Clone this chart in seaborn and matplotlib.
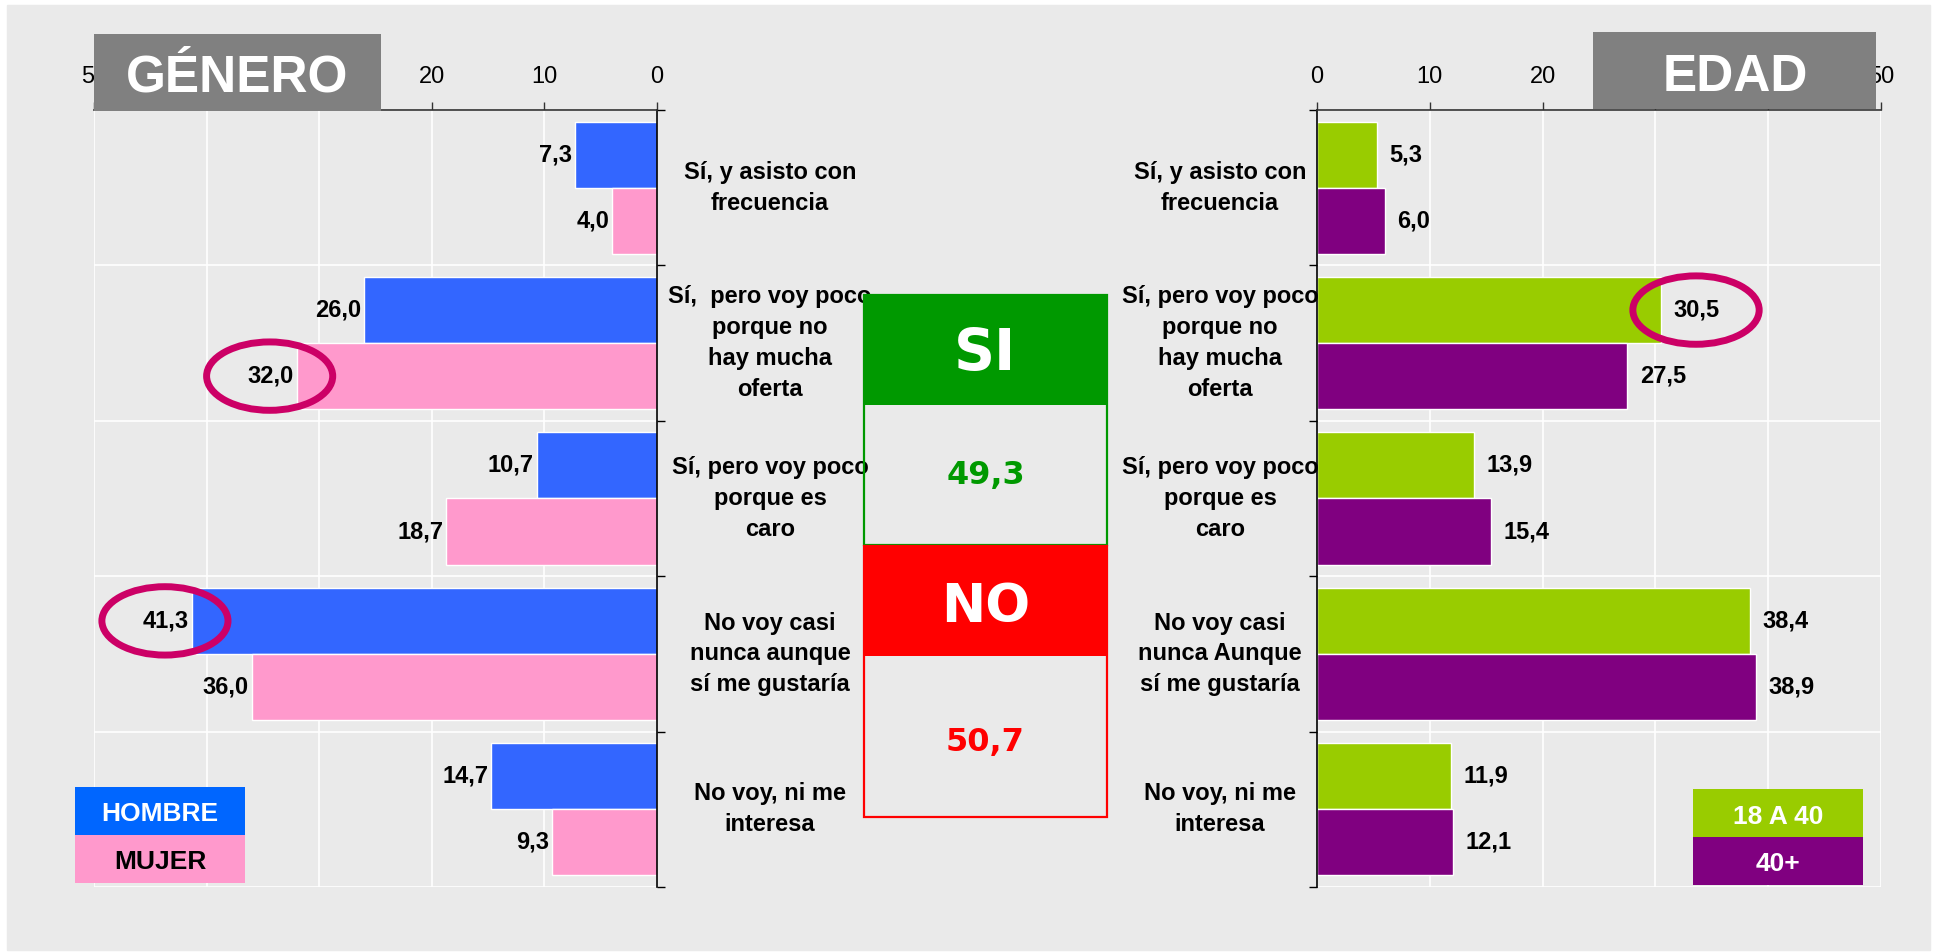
import numpy as np
import pandas as pd
import matplotlib
matplotlib.use("Agg")
import matplotlib.pyplot as plt
import matplotlib.transforms as mtransforms
from matplotlib.patches import Rectangle, Ellipse
import seaborn as sns

# -----------------------------
# Data
# -----------------------------
categorias_genero = [
    "Sí, y asisto con\nfrecuencia",
    "Sí,  pero voy poco\nporque no\nhay mucha\noferta",
    "Sí, pero voy poco\nporque es\ncaro",
    "No voy casi\nnunca aunque\nsí me gustaría",
    "No voy, ni me\ninteresa",
]
categorias_edad = [
    "Sí, y asisto con\nfrecuencia",
    "Sí, pero voy poco\nporque no\nhay mucha\noferta",
    "Sí, pero voy poco\nporque es\ncaro",
    "No voy casi\nnunca Aunque\nsí me gustaría",
    "No voy, ni me\ninteresa",
]
grupos_genero = ["HOMBRE", "MUJER"]
hombre = [7.3, 26.0, 10.7, 41.3, 14.7]
mujer = [4.0, 32.0, 18.7, 36.0, 9.3]

grupos_edad = ["18 A 40", "40+"]
edad_18_40 = [5.3, 30.5, 13.9, 38.4, 11.9]
edad_40_mas = [6.0, 27.5, 15.4, 38.9, 12.1]

total_si = 49.3
total_no = 50.7

# bars that get a circle: (group, category index)
destacados_genero = [("MUJER", 1), ("HOMBRE", 3)]
destacados_edad = [("18 A 40", 1)]

ticks_x = [0, 10, 20, 30, 40, 50]
# 30 and 40 sit under the title boxes
tick_labels_x = ["0", "10", "20", "", "", "50"]

col_genero = ["#3366ff", "#ff99cc"]
col_edad = ["#99cc00", "#800080"]

df_gen = pd.DataFrame({
    "categoria": categorias_genero * 2,
    "valor": hombre + mujer,
    "grupo": [grupos_genero[0]] * 5 + [grupos_genero[1]] * 5,
})
df_edad = pd.DataFrame({
    "categoria": categorias_edad * 2,
    "valor": edad_18_40 + edad_40_mas,
    "grupo": [grupos_edad[0]] * 5 + [grupos_edad[1]] * 5,
})

# -----------------------------
# Style
# -----------------------------
BG = "#eaeaea"
sns.set_theme(style="darkgrid", rc={"axes.facecolor": BG, "grid.color": "white"})
plt.rcParams["font.family"] = ["Liberation Sans", "DejaVu Sans"]

W, H = 1934, 952
fig = plt.figure(figsize=(W / 100, H / 100), dpi=100, facecolor="white")


def fx(x):
    return x / W


def fy(y):
    return 1 - y / H


# grey background panel
fig.add_artist(Rectangle((fx(7), fy(950)), fx(1930) - fx(7), fy(5) - fy(950),
                         transform=fig.transFigure, color=BG, zorder=-10))

ax_l = fig.add_axes([fx(94), fy(887), fx(657) - fx(94), fy(110) - fy(887)])
ax_r = fig.add_axes([fx(1317), fy(887), fx(1881) - fx(1317), fy(110) - fy(887)])


def dibujar(ax, df, grupos, colores, invert, destacados, label_x, ell_off):
    sns.barplot(data=df, x="valor", y="categoria", hue="grupo", hue_order=grupos,
                palette=colores, orient="h", width=0.85, saturation=1,
                legend=False, ax=ax)
    ax.set_facecolor(BG)
    ax.set_xlabel("")
    ax.set_ylabel("")
    ax.set_ylim(4.5, -0.5)
    if invert:
        ax.set_xlim(50, 0)
    else:
        ax.set_xlim(0, 50)
    ax.set_xticks(ticks_x, tick_labels_x)
    ax.xaxis.tick_top()
    ax.set_yticks(np.arange(-0.5, 5.0, 1.0))
    ax.grid(True, color="white", lw=1.2)
    ax.set_axisbelow(True)
    for s in ax.spines.values():
        s.set_visible(False)
    ax.spines["top"].set_visible(True)
    ax.spines["top"].set_color("#333333")
    ax.spines["top"].set_linewidth(1.2)
    side = "right" if invert else "left"
    ax.spines[side].set_visible(True)
    ax.spines[side].set_color("black")
    ax.spines[side].set_linewidth(1.2)
    ax.tick_params(axis="x", top=True, bottom=False, labeltop=True, labelbottom=False,
                   direction="out", length=6, width=1, color="#333333", pad=10,
                   labelsize=17, labelcolor="black")
    if invert:
        ax.yaxis.tick_right()
        ax.tick_params(axis="y", right=True, left=False, labelright=False, labelleft=False,
                       direction="out", length=6, width=1, color="black")
    else:
        ax.tick_params(axis="y", left=True, right=False, labelleft=False, labelright=False,
                       direction="out", length=6, width=1, color="black")

    # value labels and highlight circles
    for gi, cont in enumerate(ax.containers):
        for ci, p in enumerate(cont.patches):
            v = p.get_width()
            yc = p.get_y() + p.get_height() / 2
            txt = f"{v:.1f}".replace(".", ",")
            if invert:
                ax.annotate(txt, (v, yc), xytext=(-2, 0), textcoords="offset points",
                            ha="right", va="center", fontsize=17, fontweight="bold",
                            color="black", annotation_clip=False)
            else:
                ax.annotate(txt, (v, yc), xytext=(9, 0), textcoords="offset points",
                            ha="left", va="center", fontsize=17, fontweight="bold",
                            color="black", annotation_clip=False)
            if (grupos[gi], ci) in destacados:
                ax.add_patch(Ellipse((v + ell_off, yc), width=11.2, height=0.44,
                                     fill=False, edgecolor="#cc0066", lw=5,
                                     clip_on=False, zorder=5))

    # category labels
    tr = mtransforms.blended_transform_factory(fig.transFigure, ax.transData)
    cats = df["categoria"].unique()
    for i, c in enumerate(cats):
        ax.text(fx(label_x), i, c, transform=tr, ha="center", va="center",
                fontsize=17, fontweight="bold", color="black", linespacing=1.43,
                clip_on=False)


dibujar(ax_l, df_gen, grupos_genero, col_genero, True, destacados_genero, 770, 2.4)
dibujar(ax_r, df_edad, grupos_edad, col_edad, False, destacados_edad, 1220, 3.1)


def caja(x0, y0, x1, y1, color, fill=True, lw=0):
    fig.add_artist(Rectangle((fx(x0), fy(y1)), fx(x1) - fx(x0), fy(y0) - fy(y1),
                             transform=fig.transFigure, facecolor=color if fill else "none",
                             edgecolor=color, lw=lw, zorder=3))


# title boxes
caja(94, 34, 381, 111, "#808080")
caja(1593, 32, 1876, 109, "#808080")
fig.text(fx(237), fy(92), "GÉNERO", ha="center", va="baseline", fontsize=37,
         fontweight="bold", color="white", zorder=4)
fig.text(fx(1735), fy(91), "EDAD", ha="center", va="baseline", fontsize=37,
         fontweight="bold", color="white", zorder=4)

# legends
caja(75, 787, 245, 835, "#0066ff")
caja(75, 835, 245, 883, "#ff99cc")
fig.text(fx(160), fy(821), grupos_genero[0], ha="center", va="baseline", fontsize=19,
         fontweight="bold", color="white", zorder=4)
fig.text(fx(160), fy(869), grupos_genero[1], ha="center", va="baseline", fontsize=19,
         fontweight="bold", color="black", zorder=4)
caja(1693, 789, 1863, 837, col_edad[0])
caja(1693, 837, 1863, 885, col_edad[1])
fig.text(fx(1778), fy(824), grupos_edad[0], ha="center", va="baseline", fontsize=19,
         fontweight="bold", color="white", zorder=4)
fig.text(fx(1778), fy(871), grupos_edad[1], ha="center", va="baseline", fontsize=19,
         fontweight="bold", color="white", zorder=4)

# SI / NO summary box
caja(864, 295, 1107, 545, "#009900", fill=False, lw=1.6)
caja(864, 546, 1107, 817, "#ff0000", fill=False, lw=1.6)
caja(863, 294, 1108, 405, "#009900")
caja(863, 546, 1108, 656, "#ff0000")
fmt = lambda v: f"{v:.1f}".replace(".", ",")
fig.text(fx(985.5), fy(370), "SI", ha="center", va="baseline", fontsize=41,
         fontweight="bold", color="white", family="DejaVu Sans", zorder=4)
fig.text(fx(985.5), fy(622), "NO", ha="center", va="baseline", fontsize=38,
         fontweight="bold", color="white", family="DejaVu Sans", zorder=4)
fig.text(fx(985.5), fy(484), fmt(total_si), ha="center", va="baseline", fontsize=23,
         fontweight="bold", color="#009900", family="DejaVu Sans", zorder=4)
fig.text(fx(985.5), fy(751), fmt(total_no), ha="center", va="baseline", fontsize=23,
         fontweight="bold", color="#ff0000", family="DejaVu Sans", zorder=4)

fig.savefig("out.png", dpi=100, facecolor="white")
